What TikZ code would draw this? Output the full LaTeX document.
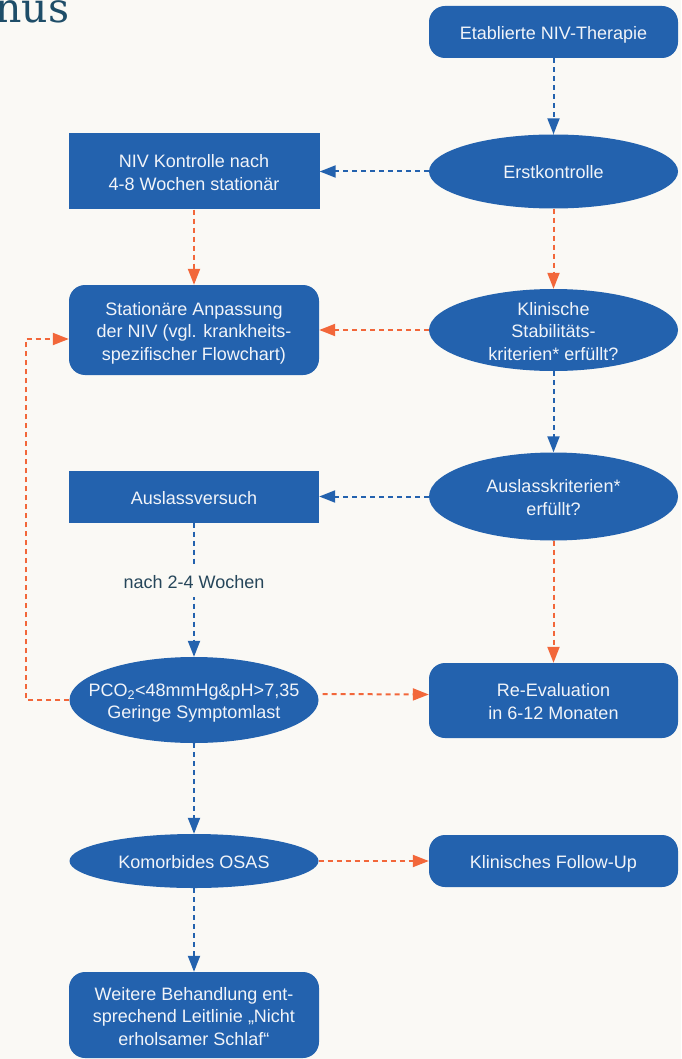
\documentclass[tikz,border=0pt]{standalone}
\usepackage{fontspec}
\setmainfont{Liberation Sans}
\newfontfamily\headfont{DejaVu Serif}
\usetikzlibrary{arrows.meta,shapes.geometric}
\definecolor{bg}{HTML}{FAF9F5}
\definecolor{boxblue}{HTML}{2362AE}
\definecolor{flowor}{HTML}{F2673A}
\definecolor{headcol}{HTML}{1E4D68}
\definecolor{labelcol}{HTML}{26465A}
\definecolor{boxtext}{HTML}{F1F4F9}

% centred stack of lines, each exactly one baselineskip tall,
% set a little below the box centre
\newcommand\stacklines[1]{%
  \raisebox{-3pt}[\height][\depth]{\begin{tabular}{@{}c@{}}#1\end{tabular}}}

\begin{document}
\begin{tikzpicture}[x=1pt,y=-1pt,
  base/.style={fill=boxblue, text=boxtext, inner sep=0pt,
               font=\fontsize{18}{22.5}\selectfont},
  rbox/.style={base, rectangle, rounded corners=16pt},
  sbox/.style={base, rectangle},
  ebox/.style={base, ellipse, inner xsep=-80pt, inner ysep=-25pt},
  link/.style={line width=2pt, dash pattern=on 5pt off 4pt,
               -{Triangle[length=16pt,width=12pt]}},
  blink/.style={link, draw=boxblue},
  olink/.style={link, draw=flowor},
  wlabel/.style={fill=bg, text=labelcol, inner xsep=2pt, inner ysep=9pt,
                 font=\fontsize{18}{22.5}\selectfont},
]
\useasboundingbox (0,0) rectangle (681,1059);
\clip (0,0) rectangle (681,1059);
\fill[bg] (0,0) rectangle (681,1059);

% heading fragment in the corner
\node[anchor=base west, inner sep=0pt, text=headcol,
      font=\headfont\fontsize{41}{41}\selectfont] (head) at (-5,23) {nus};

% right column
\node[rbox, minimum width=249pt, minimum height=52pt] (etab) at (553.5,32) {\stacklines{Etablierte NIV-Therapie}};
\node[ebox, minimum width=249pt, minimum height=74pt] (erst) at (553.5,171.5) {\stacklines{Erstkontrolle}};
\node[ebox, minimum width=249pt, minimum height=82pt] (klin) at (553.5,330) {\stacklines{Klinische\\Stabilitäts-\\kriterien* erfüllt?}};
\node[ebox, minimum width=249pt, minimum height=88pt] (ausk) at (553.5,496.5) {\stacklines{Auslasskriterien*\\erfüllt?}};
\node[rbox, minimum width=249pt, minimum height=75pt] (reev) at (553.5,700.5) {\stacklines{Re-Evaluation\\in 6-12 Monaten}};
\node[rbox, minimum width=249pt, minimum height=52pt] (fup) at (553.5,861) {\stacklines{Klinisches Follow-Up}};

% left column
\node[sbox, minimum width=251pt, minimum height=76pt] (nivk) at (194,171.5) {\stacklines{NIV Kontrolle nach\\4-8 Wochen stationär}};
\node[rbox, minimum width=250pt, minimum height=90pt] (stat) at (194,330) {\stacklines{Stationäre Anpassung\\der NIV (vgl. krankheits-\\spezifischer Flowchart)}};
\node[sbox, minimum width=250pt, minimum height=52pt] (ausv) at (194,496.5) {\stacklines{Auslassversuch}};
\node[ebox, minimum width=249pt, minimum height=86pt] (pco) at (194,700) {\stacklines{PCO\textsubscript{2}<48mmHg\&pH>7,35\\Geringe Symptomlast}};
\node[ebox, minimum width=249pt, minimum height=54pt] (komo) at (194,861) {\stacklines{Komorbides OSAS}};
\node[rbox, minimum width=250pt, minimum height=86pt] (weit) at (194,1015) {\stacklines{Weitere Behandlung ent-\\sprechend Leitlinie „Nicht\\erholsamer Schlaf“}};

\coordinate (loop) at (26,339);

% connectors
\draw[blink] (etab) -- (erst);
\draw[blink] (erst) -- (nivk);
\draw[olink] (nivk) -- (stat);
\draw[olink] (erst) -- (klin);
\draw[olink] (klin) -- (stat);
\draw[blink] (klin) -- (ausk);
\draw[blink] (ausk) -- (ausv);
\draw[olink] (ausk) -- (reev);
\draw[blink] (ausv) -- node[wlabel, pos=0.44] {nach 2-4 Wochen} (pco);
\draw[olink, shorten <=4pt] ([yshift=6pt]pco.east) -- ([yshift=6pt]reev.west);
\draw[olink] (pco.west) -| (loop) -- ([yshift=-9pt]stat.west);
\draw[blink] (pco) -- (komo);
\draw[olink] (komo) -- (fup);
\draw[blink] (komo) -- (weit);
\end{tikzpicture}
\end{document}
